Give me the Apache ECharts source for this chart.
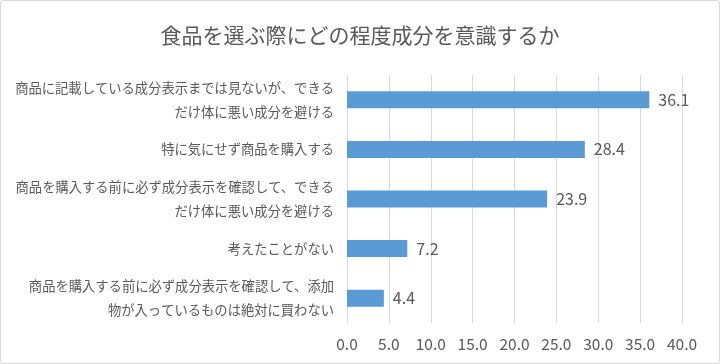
<!DOCTYPE html>
<html><head><meta charset="utf-8">
<script src="https://cdn.jsdelivr.net/npm/echarts@6/dist/echarts.min.js"></script>
<style>html,body{margin:0;padding:0;background:#fff}#c{width:720px;height:364px;box-sizing:border-box;border:1px solid #d9d9d9;border-radius:3px}</style>
</head><body><div id="c"></div>
<script>
const title = "食品を選ぶ際にどの程度成分を意識するか";
const categories = [
  "商品に記載している成分表示までは見ないが、できる\nだけ体に悪い成分を避ける",
  "特に気にせず商品を購入する",
  "商品を購入する前に必ず成分表示を確認して、できる\nだけ体に悪い成分を避ける",
  "考えたことがない",
  "商品を購入する前に必ず成分表示を確認して、添加\n物が入っているものは絶対に買わない"
];
const values = [36.1, 28.4, 23.9, 7.2, 4.4];
const axisMin = 0, axisMax = 40, axisStep = 5;

const font = '"Noto Sans CJK JP", "Noto Sans", sans-serif';
const chart = echarts.init(document.getElementById('c'));
chart.setOption({
  animation: false,
  textStyle: {fontFamily: font},
  title: {text: title, left: 'center', top: 19,
    textStyle: {fontFamily: font, fontSize: 21, fontWeight: 'normal', color: '#595959'}},
  grid: {left: 346, right: 37, top: 74, bottom: 40, containLabel: false},
  xAxis: {type: 'value', min: axisMin, max: axisMax, interval: axisStep,
    axisLine: {show: false}, axisTick: {show: false},
    splitLine: {lineStyle: {color: '#d9d9d9', width: 1}},
    axisLabel: {formatter: v => v.toFixed(1), color: '#595959', fontSize: 15.5, margin: 13, fontFamily: font}},
  yAxis: {type: 'category', data: categories, inverse: true,
    axisLine: {lineStyle: {color: '#d9d9d9'}}, axisTick: {show: false},
    axisLabel: {color: '#595959', fontSize: 13.3, lineHeight: 24, margin: 13, align: 'right', fontFamily: font}},
  series: [{type: 'bar', data: values, barWidth: 17,
    itemStyle: {color: '#5b9bd5'},
    label: {show: true, position: 'right', distance: 9, formatter: p => p.value.toFixed(1),
      color: '#595959', fontSize: 16, fontFamily: font}}]
});
</script></body></html>
